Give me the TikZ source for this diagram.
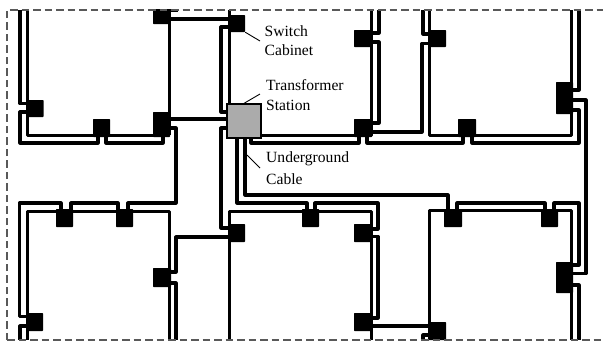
\documentclass[tikz,border=0pt]{standalone}
\usepackage{fontspec}
\setmainfont{Liberation Serif}
\tikzset{
  cable/.style={line width=3.2pt,line join=round,line cap=butt},
  thin cable/.style={line width=3pt,line join=round},
  cab/.style={fill=black,draw=none,inner sep=0pt,rounded corners=0.6pt},
  station/.style={fill=black!33,draw=black,line width=1.3pt,inner sep=0pt,minimum width=34pt,minimum height=34pt},
  leader/.style={line width=0.9pt},
  frame/.style={draw=black!65,line width=2pt,dash pattern=on 7.5pt off 4pt},
  lbl/.style={font=\fontsize{15.6}{20}\selectfont,align=left,anchor=west,inner sep=0pt}
}
\newcommand{\cabinet}[5]{\node[cab,minimum width=#4pt,minimum height=#5pt] (#1) at (#2,#3) {};}
\begin{document}
\begin{tikzpicture}[x=1pt,y=-1pt]
\useasboundingbox (0,0) rectangle (603,341);
\fill[white] (0,0) rectangle (603,341);
% inner thin lines
\begin{scope}[thin cable]
\draw (27,10) -- (27,135) -- (169,135);
\draw (169,10) -- (169,135);
\draw (229,10) -- (229,106);
\draw (261,135) -- (354,135);
\draw (354,135) -- (371,135) -- (371,10);
\draw (429,10) -- (429,135) -- (571,135) -- (571,10);
\draw (27,340) -- (27,211) -- (169,211) -- (169,340);
\draw (229,340) -- (229,211) -- (371,211) -- (371,340);
\draw (429,340) -- (429,210) -- (571,210) -- (571,340);
\end{scope}
% cables
\begin{scope}[cable]
\draw (20,10) -- (20,103.5) -- (28,103.5);
\draw (28,112) -- (20,112) -- (20,143) -- (98,143) -- (98,135);
\draw (106,135) -- (106,143) -- (163,143) -- (163,135);
\draw (168,19) -- (230,19);
\draw (168,10.5) -- (178,10.5);
\draw (168,119) -- (228,119);
\draw (228,27) -- (221,27) -- (221,112) -- (228,112);
\draw (228,128) -- (221,128) -- (221,228) -- (230,228);
\draw (168,128) -- (176,128) -- (176,203) -- (128,203) -- (128,210);
\draw (118,210) -- (118,203) -- (71,203) -- (71,210);
\draw (61,210) -- (61,203) -- (19.5,203) -- (19.5,316.5) -- (28,316.5);
\draw (28,326) -- (20,326) -- (20,340);
\draw (230,237) -- (176,237) -- (176,272) -- (169,272);
\draw (169,283) -- (176,283) -- (176,340);
\draw (237,137) -- (237,203) -- (307,203) -- (307,210);
\draw (245,137) -- (245,195) -- (448,195) -- (448,210);
\draw (315,210) -- (315,203) -- (378,203) -- (378,229) -- (370,229);
\draw (370,236.5) -- (378,236.5) -- (378,318) -- (370,318);
\draw (370,326) -- (430,326);
\draw (430,335) -- (423,335) -- (423,340);
\draw (457,210) -- (457,203) -- (545,203) -- (545,210);
\draw (554,210) -- (554,203) -- (579,203) -- (579,265) -- (571,265);
\draw (571,273.5) -- (586,273.5) -- (586,100) -- (571,100);
\draw (571,285) -- (579,285) -- (579,340);
\draw (379,10) -- (379,33) -- (370,33);
\draw (370,42) -- (379,42) -- (379,123) -- (370,123);
\draw (370,132) -- (422,132) -- (422,43.5) -- (430,43.5);
\draw (430,34) -- (423,34) -- (423,10);
\draw (579,10) -- (579,90) -- (571,90);
\draw (571,110) -- (579,110) -- (579,143) -- (472,143) -- (472,135);
\draw (463,135) -- (463,143) -- (367,143) -- (367,135);
\draw (359,135) -- (359,143) -- (251,143) -- (251,136);
\end{scope}
% cabinets
\cabinet{a}{161.5}{16.5}{17}{15}
\cabinet{b}{35}{108.5}{17}{17}
\cabinet{c}{101.5}{128}{17}{18}
\cabinet{d}{161.5}{124.5}{17}{25}
\cabinet{sw}{236.5}{23.5}{17}{17}
\cabinet{f}{363}{38.5}{18}{17}
\cabinet{g}{437}{38.5}{18}{17}
\cabinet{h}{363}{128}{18}{18}
\cabinet{i}{467}{128}{18}{18}
\cabinet{j}{564.5}{98}{17}{32}
\cabinet{k}{64.5}{218}{17}{18}
\cabinet{l}{124.5}{218}{17}{18}
\cabinet{m}{162}{277.5}{18}{19}
\cabinet{n}{34.5}{322}{17}{18}
\cabinet{o}{236.5}{233}{17}{18}
\cabinet{p}{310.5}{218}{17}{18}
\cabinet{q}{363}{233}{18}{18}
\cabinet{r}{363}{322}{18}{18}
\cabinet{s}{437}{331}{18}{18}
\cabinet{t}{453}{218}{18}{18}
\cabinet{u}{549.5}{218}{17}{18}
\cabinet{v}{564.5}{277.5}{17}{31}
% station
\node[station] (st) at (244,121) {};
% labels
\node[lbl] (l1) at (264.5,31) {Switch};
\node[lbl] (l2) at (264.5,50) {Cabinet};
\node[lbl] (l3) at (266,85) {Transformer};
\node[lbl] (l4) at (266,105) {Station};
\node[lbl] (l5) at (266,159) {Underground};
\node[lbl] (l6) at (266,179) {Cable};
% leaders
\coordinate (e1) at (260,41);
\coordinate (e2) at (260,94);
\coordinate (e3) at (260,168);
\coordinate (s3) at (247,155);
\draw[leader] (sw.south east) -- (e1);
\draw[leader] (st.north) -- (e2);
\draw[leader] (s3) -- (e3);
% frame
\draw[frame] (7,340) -- (7,9.5) -- (603,9.5);
\draw[frame] (7,340) -- (603,340);
\end{tikzpicture}
\end{document}
